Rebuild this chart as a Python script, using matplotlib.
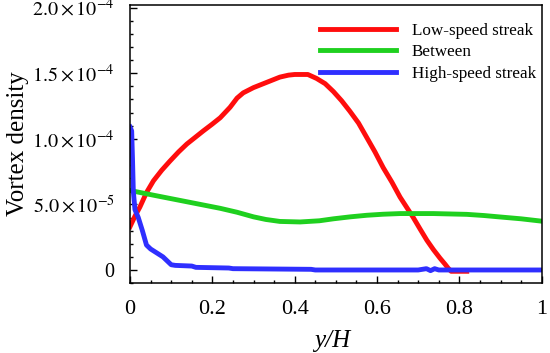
import matplotlib
import numpy as np

matplotlib.use("Agg")
import matplotlib.pyplot as plt  # noqa: E402
from matplotlib.ticker import MultipleLocator  # noqa: E402

plt.rcParams["font.family"] = ["Liberation Serif", "DejaVu Serif"]
plt.rcParams["mathtext.fontset"] = "stix"

# values, y in units of 1e-5
low_x = [0, 0.012, 0.024, 0.04, 0.057, 0.077, 0.097, 0.118, 0.138, 0.158, 0.178,
         0.199, 0.219, 0.243, 0.26, 0.275, 0.30, 0.34, 0.364, 0.385, 0.40, 0.42,
         0.432, 0.453, 0.474, 0.494, 0.514, 0.534, 0.555, 0.575, 0.595, 0.615,
         0.636, 0.656, 0.688, 0.705, 0.721, 0.737, 0.753, 0.765, 0.773, 0.78, 0.818]
low_y = [3.3, 4.1, 4.8, 5.9, 6.8, 7.6, 8.3, 9.0, 9.6, 10.1, 10.6,
         11.1, 11.6, 12.4, 13.1, 13.5, 13.9, 14.4, 14.7, 14.85, 14.9, 14.9,
         14.9, 14.6, 14.2, 13.6, 12.9, 12.1, 11.2, 10.1, 9.0, 7.8,
         6.7, 5.55, 4.0, 3.1, 2.27, 1.55, 0.9, 0.45, 0.13, -0.1, -0.1]

mid_x = [0, 0.057, 0.138, 0.219, 0.26, 0.30, 0.33, 0.364, 0.413, 0.46, 0.494,
         0.535, 0.575, 0.615, 0.656, 0.737, 0.818, 0.86, 0.899, 0.95, 1.0]
mid_y = [6.06, 5.7, 5.2, 4.7, 4.4, 4.05, 3.85, 3.7, 3.66, 3.75, 3.9,
         4.05, 4.17, 4.25, 4.3, 4.3, 4.24, 4.15, 4.04, 3.9, 3.72]

high_x = [0, 0.004, 0.006, 0.008, 0.012, 0.02, 0.03, 0.04, 0.05, 0.065, 0.08,
          0.09, 0.1, 0.11, 0.15, 0.16, 0.24, 0.25, 0.44, 0.45, 0.7, 0.72,
          0.73, 0.74, 0.75, 1.0]
high_y = [10.9, 10.6, 8.5, 6.0, 4.6, 4.0, 3.0, 1.9, 1.6, 1.3, 1.0,
          0.7, 0.4, 0.35, 0.3, 0.2, 0.15, 0.1, 0.05, 0.0, 0.0, 0.1,
          -0.05, 0.1, 0.0, 0.0]

y_ticks = [0, 5e-5, 1e-4, 1.5e-4, 2e-4]
y_ticklabels = ["0", r"$5.0\times10^{-5}$", r"$1.0\times10^{-4}$",
                r"$1.5\times10^{-4}$", r"$2.0\times10^{-4}$"]
x_ticks = [0, 0.2, 0.4, 0.6, 0.8, 1.0]
x_ticklabels = ["0", "0.2", "0.4", "0.6", "0.8", "1"]

fig = plt.figure(figsize=(5.5, 3.53), dpi=100)
ax = fig.add_axes([0.2364, 0.198, 0.7485, 0.788])

ax.plot(low_x, np.array(low_y) * 1e-5, color="#ff0d0d", lw=3.5, label="Low-speed streak")
ax.plot(mid_x, np.array(mid_y) * 1e-5, color="#1fd01f", lw=3.5, label="Between")
ax.plot(high_x, np.array(high_y) * 1e-5, color="#2f2fff", lw=3.5, label="High-speed streak")

ax.set_xlim(0, 1)
ax.set_ylim(-1e-5, 2.02e-4)
ax.set_xticks(x_ticks, x_ticklabels)
ax.set_yticks(y_ticks, y_ticklabels)
ax.xaxis.set_minor_locator(MultipleLocator(0.05))
ax.yaxis.set_minor_locator(MultipleLocator(1e-5))
ax.tick_params(which="both", direction="in", width=1)
ax.tick_params(which="major", length=5)
ax.tick_params(which="minor", length=2.5)
ax.tick_params(axis="x", labelsize=16, pad=12)
ax.tick_params(axis="y", labelsize=14.5, pad=11)
for s in ax.spines.values():
    s.set_linewidth(1.1)

ax.set_xlabel("y/H", fontsize=18, fontstyle="italic")
ax.xaxis.set_label_coords(0.49, -0.17)
ax.set_ylabel("Vortex density", fontsize=18)
ax.yaxis.set_label_coords(-0.245, 0.5)

ax.legend(loc="upper right", bbox_to_anchor=(1.017, 0.982), frameon=False,
          fontsize=12.3, handlelength=4.5, handletextpad=0.9,
          labelspacing=0.32, borderaxespad=0.35, borderpad=0.4)

fig.savefig("out.png", dpi=100)
